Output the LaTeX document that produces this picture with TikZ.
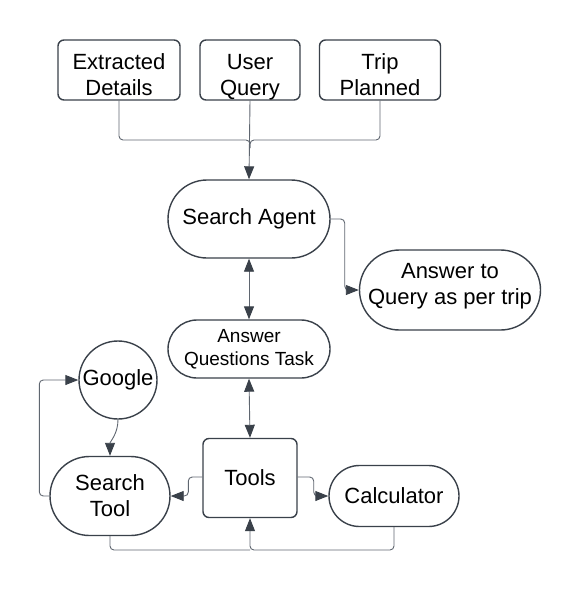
\documentclass[tikz,border=0pt]{standalone}
\usepackage{fontspec}
\setmainfont{Liberation Sans}
\usetikzlibrary{arrows.meta,positioning}
\definecolor{edge}{HTML}{3A414A}
\definecolor{wire}{HTML}{5F6670}
\newcommand{\shiftedtext}[2]{\raisebox{#1}[\height][\depth]{\begin{tabular}{@{}c@{}}#2\end{tabular}}}
\tikzset{
  box/.style={draw=edge,line width=1.4pt,fill=white,rounded corners=6pt,align=center,inner sep=0pt,
    font=\fontsize{22}{26}\selectfont},
  stad/.style={draw=edge,line width=1.4pt,fill=white,align=center,inner sep=0pt,
    font=\fontsize{22}{26}\selectfont},
  conn/.style={draw=wire,line width=0.9pt,rounded corners=4pt},
  arr/.style={-{Triangle[length=13pt,width=10pt,color=edge]}},
  darr/.style={{Triangle[length=13pt,width=10pt,color=edge]}-{Triangle[length=13pt,width=10pt,color=edge]}},
}
\begin{document}
\begin{tikzpicture}[x=1pt,y=-1pt]
\useasboundingbox (0,0) rectangle (580,590);
% top boxes
\node[box,minimum width=122pt,minimum height=60pt] (ed) at (119,70) {\shiftedtext{-7pt}{Extracted\\Details}};
\node[box,minimum width=100pt,minimum height=60pt] (uq) at (250,70) {\shiftedtext{-7pt}{User\\Query}};
\node[box,minimum width=121pt,minimum height=60pt] (tp) at (380,70) {\shiftedtext{-7pt}{Trip\\Planned}};
% search agent
\node[stad,minimum width=162pt,minimum height=78pt,rounded corners=39pt] (sa) at (249,219) {Search Agent};
\node[stad,minimum width=181pt,minimum height=80pt,rounded corners=40pt] (aq) at (450,290) {\shiftedtext{4pt}{Answer to\\Query as per trip}};
\node[stad,minimum width=162pt,minimum height=58pt,rounded corners=29pt,font=\fontsize{19}{23}\selectfont] (aqt) at (249,349) {Answer\\Questions Task};
% lower part
\node[stad,circle,minimum size=78pt] (g) at (118,380) {Google};
\node[stad,minimum width=120pt,minimum height=79pt,rounded corners=39.5pt] (st) at (110,496) {Search\\Tool};
\node[box,minimum width=94pt,minimum height=79pt] (tools) at (250,478) {Tools};
\node[stad,minimum width=130pt,minimum height=61pt,rounded corners=30.5pt] (calc) at (394,496) {Calculator};
\coordinate (m) at (250,140);
\coordinate (b) at (250,550);
% connectors
\draw[conn] (ed.south) |- (m) -- ++(0,8);
\draw[conn] (tp.south) |- (m) -- ++(0,8);
\draw[conn,arr] (uq.south) -- (sa.north);
\draw[conn,arr] (sa.east) -- ++(14,0) |- (aq.west);
\draw[conn,darr] (sa.south) -- (aqt.north);
\draw[conn,darr] (aqt.south) -- (tools.north);
\draw[conn,arr] ([yshift=1pt]tools.west) -- ++(-14,0) |- (st.east);
\draw[conn,arr] ([yshift=1pt]tools.east) -- ++(16,0) |- (calc.west);
\draw[conn] (st.south) |- (b);
\draw[conn,arr] (calc.south) |- (b) -- (tools.south);
\draw[conn,arr] (st.west) -- ++(-10,0) |- (g.west);
\draw[conn,arr] (g.south) .. controls ++(0,14) and ++(0,-14) .. (st.north);
\end{tikzpicture}
\end{document}
